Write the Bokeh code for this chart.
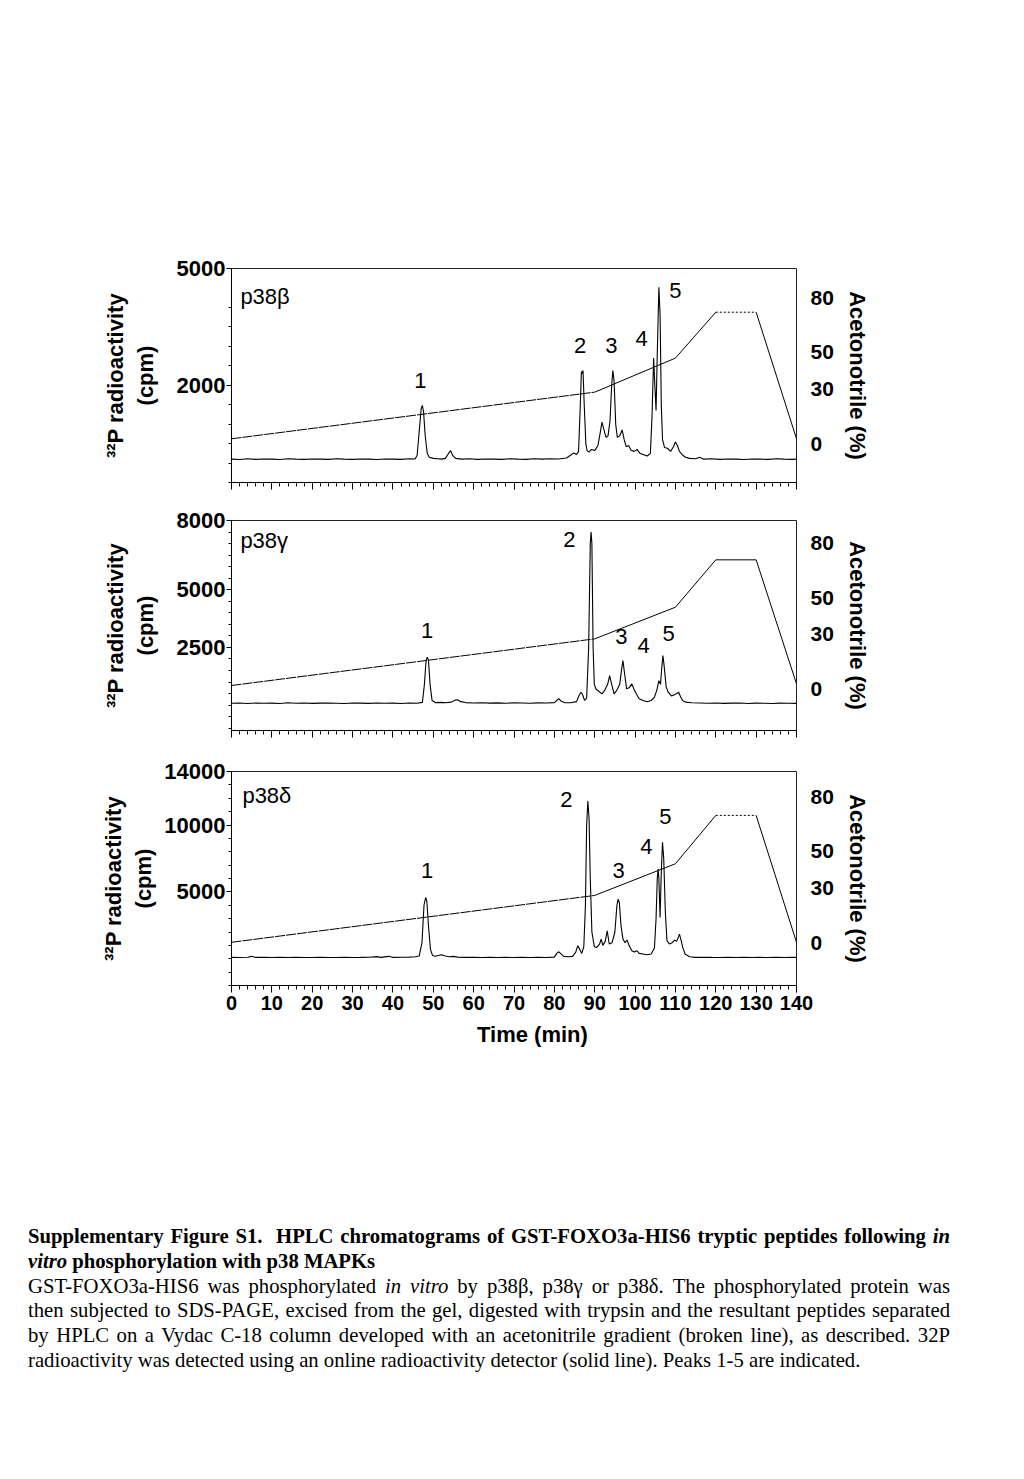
from bokeh.plotting import figure
from bokeh.models import Range1d, LinearAxis, FixedTicker, Spacer, Div
from bokeh.layouts import column
from bokeh.core.properties import value
from bokeh.embed import file_html
from bokeh.resources import INLINE

# ---------------- data ----------------
time_ticks = list(range(0, 141, 10))
time_minor = list(range(0, 141, 2))

# acetonitrile gradient (time, %)
grad_t = [0, 90, 110, 120, 130, 140]
grad_beta = [2.8, 28.3, 46.9, 72.0, 72.0, 2.8]
grad_gamma = [1.9, 27.4, 44.7, 70.6, 70.6, 2.8]
grad_delta = [0.4, 26.0, 43.3, 69.7, 69.7, 0.4]
acn_ticks = [0, 30, 50, 80]

# 32P trace p38beta (time min, cpm)
trace_beta = [
    (0, 100), (2, 90), (4, 110), (6, 95), (8, 105), (10, 100), (12, 90), (14, 110), (16, 100),
    (18, 95), (20, 105), (22, 100), (24, 95), (26, 110), (28, 100), (30, 95), (32, 105), (34, 100),
    (36, 90), (38, 105), (40, 100), (42, 95), (44, 110), (45.5, 105), (46.0, 200), (46.5, 800),
    (47.0, 1400), (47.3, 1480), (47.6, 1300), (48.0, 700), (48.5, 250), (49.0, 150), (50, 120),
    (51, 110), (52, 100), (53, 120), (53.8, 250), (54.3, 320), (54.8, 200), (55.5, 120), (57, 100),
    (59, 110), (61, 95), (63, 105), (65, 100), (67, 95), (69, 110), (71, 100), (73, 95), (75, 110),
    (77, 100), (79, 110), (81, 105), (83, 130), (84, 200), (84.8, 260), (85.5, 220), (86.0, 300),
    (86.4, 1400), (86.7, 2350), (86.9, 2300), (87.1, 2380), (87.4, 1500), (87.8, 500), (88.1, 320),
    (88.6, 280), (89.2, 350), (90, 320), (90.8, 450), (91.4, 800), (91.8, 1050), (92.3, 850),
    (92.8, 660), (93.3, 700), (93.8, 1100), (94.2, 2000), (94.5, 2380), (94.8, 2100), (95.2, 1000),
    (95.6, 660), (96.2, 700), (96.8, 850), (97.3, 600), (97.8, 420), (98.4, 450), (99, 330),
    (99.8, 300), (100.5, 350), (101.2, 250), (102, 220), (103, 180), (103.8, 250), (104.2, 1200),
    (104.6, 2700), (104.9, 2000), (105.2, 1350), (105.5, 2800), (105.9, 4520), (106.2, 3800),
    (106.5, 1500), (106.8, 600), (107.3, 400), (108, 380), (108.8, 300), (109.5, 420), (110, 540),
    (110.5, 450), (111, 300), (111.8, 200), (112.5, 150), (113.5, 120), (115, 110), (116, 150),
    (117, 100), (119, 110), (121, 95), (123, 105), (125, 100), (127, 90), (129, 105), (131, 100),
    (133, 95), (135, 110), (137, 100), (139, 95), (140, 100),
]

# 32P trace p38gamma
trace_gamma = [
    (0, 80), (2, 90), (4, 70), (6, 90), (8, 80), (10, 85), (12, 70), (14, 100), (16, 80), (18, 90),
    (20, 75), (22, 85), (24, 90), (26, 80), (28, 70), (30, 90), (32, 85), (34, 75), (36, 90),
    (38, 80), (40, 85), (42, 70), (44, 90), (46, 80), (47.3, 120), (47.8, 900), (48.2, 1900),
    (48.5, 2080), (48.8, 1950), (49.2, 900), (49.7, 200), (50.5, 110), (52, 120), (53, 100),
    (54.5, 130), (55.5, 220), (56, 230), (56.8, 150), (58, 110), (60, 90), (62, 100), (64, 85),
    (66, 95), (68, 80), (70, 100), (72, 90), (74, 80), (76, 95), (78, 90), (80, 110), (80.6, 200),
    (81.1, 280), (81.6, 180), (82.5, 110), (84, 100), (85.5, 150), (86.2, 450), (86.6, 560),
    (87.0, 450), (87.5, 200), (88.0, 300), (88.5, 2500), (88.9, 7000), (89.1, 7500), (89.3, 7000),
    (89.6, 2500), (89.9, 900), (90.3, 700), (91, 600), (91.8, 490), (92.5, 650), (93.2, 900),
    (93.7, 1280), (94.2, 900), (94.8, 490), (95.5, 650), (96.2, 900), (96.7, 1600), (97.0, 1930),
    (97.3, 1500), (97.9, 706), (98.5, 750), (99.2, 920), (99.7, 700), (100.3, 490), (101, 280),
    (102, 200), (103, 150), (104, 200), (104.8, 350), (105.4, 650), (105.9, 1060), (106.3, 900),
    (106.6, 1600), (106.9, 2150), (107.2, 1700), (107.7, 800), (108.2, 560), (109, 400),
    (109.8, 450), (110.4, 520), (110.8, 560), (111.3, 350), (111.8, 200), (112.5, 130), (114, 100),
    (116, 90), (118, 80), (120, 90), (122, 75), (124, 85), (126, 90), (128, 70), (130, 85),
    (132, 80), (134, 70), (136, 85), (138, 80), (140, 75),
]

# 32P trace p38delta
trace_delta = [
    (0, 100), (2, 90), (4, 110), (5, 180), (6, 100), (8, 110), (10, 95), (12, 100), (14, 90),
    (16, 100), (18, 95), (20, 90), (22, 100), (24, 95), (26, 90), (28, 100), (30, 95), (32, 100),
    (34, 110), (36, 160), (37, 100), (39, 180), (40, 100), (42, 110), (44, 120), (45.5, 150),
    (46.5, 200), (47.2, 1200), (47.7, 4000), (48.1, 4580), (48.4, 4300), (48.8, 2500), (49.3, 700),
    (49.8, 250), (50.5, 180), (52, 300), (53, 200), (54, 150), (55, 180), (56, 120), (58, 100),
    (60, 110), (62, 95), (64, 100), (66, 90), (68, 100), (70, 95), (72, 100), (74, 90), (76, 100),
    (78, 95), (80, 120), (80.6, 400), (81.1, 520), (81.6, 380), (82.3, 180), (83.5, 150),
    (84.5, 180), (85.3, 500), (85.8, 970), (86.3, 700), (86.8, 400), (87.3, 900), (87.7, 4000),
    (88.0, 10000), (88.3, 11800), (88.6, 10500), (88.9, 6000), (89.3, 2000), (89.9, 900),
    (90.5, 850), (91.2, 1100), (91.6, 1470), (92.0, 1000), (92.6, 1300), (93.1, 2090), (93.6, 1100),
    (94.3, 1200), (95.0, 2000), (95.5, 4000), (95.8, 4460), (96.1, 4200), (96.5, 2500), (97.0, 1470),
    (97.5, 1200), (98.0, 1400), (98.5, 1000), (99.2, 600), (99.8, 500), (100.5, 600), (101, 400),
    (102, 350), (103, 300), (104, 350), (104.8, 800), (105.2, 3000), (105.5, 6000), (105.7, 6700),
    (105.9, 6000), (106.2, 3090), (106.5, 6500), (106.8, 8700), (107.1, 7500), (107.5, 3500),
    (107.9, 1350), (108.5, 1100), (109.2, 1200), (109.8, 1400), (110.3, 1300), (110.7, 1600),
    (111.0, 1840), (111.4, 1400), (111.8, 847), (112.4, 350), (113.5, 150), (115, 100), (117, 110),
    (119, 100), (121, 95), (123, 100), (125, 95), (127, 100), (129, 95), (131, 100), (133, 95),
    (135, 100), (137, 95), (139, 100), (140, 100),
]

peak_names = ["1", "2", "3", "4", "5"]
peak_lab_beta = [(46.8, 2120), (86.4, 3020), (94.1, 3020), (101.6, 3200), (110.0, 4430)]
peak_lab_gamma = [(48.5, 3230), (83.7, 7180), (96.6, 2970), (102.1, 2580), (108.3, 3100)]
peak_lab_delta = [(48.5, 6580), (83.0, 11890), (95.9, 6580), (102.8, 8370), (107.5, 10620)]

FONT = "Liberation Sans"
W = 1000
LEFT = 231
FRAME_W = 565


def make_panel(name, name_pos, trace, grad, peak_pos, yr, acn_r, yticks, yminor,
               height, top, bottom, dotted, show_x, ylab_standoff):
    p = figure(width=W, height=height, x_range=Range1d(0, 140), y_range=Range1d(*yr),
               output_backend="svg", toolbar_location=None, title=None,
               min_border_left=LEFT, min_border_right=W - LEFT - FRAME_W,
               min_border_top=top, min_border_bottom=bottom)
    p.xgrid.visible = False
    p.ygrid.visible = False
    p.outline_line_color = "#222222"
    p.outline_line_width = 1
    p.background_fill_color = "white"
    p.border_fill_color = "white"

    # x axis
    xa = p.xaxis[0]
    xa.ticker = FixedTicker(ticks=time_ticks, minor_ticks=time_minor)
    xa.major_tick_out = 7
    xa.major_tick_in = 0
    xa.minor_tick_out = 4
    xa.minor_tick_in = 0
    xa.axis_line_color = "black"
    xa.major_tick_line_color = "black"
    xa.minor_tick_line_color = "black"
    if show_x:
        xa.major_label_text_font = FONT
        xa.major_label_text_font_style = "bold"
        xa.major_label_text_font_size = "20px"
        xa.major_label_text_color = "black"
        xa.major_label_standoff = 3
    else:
        xa.major_label_text_font_size = "8px"
        xa.major_label_text_color = None
        xa.major_label_standoff = 0

    # left axis
    ya = p.yaxis[0]
    ya.ticker = FixedTicker(ticks=yticks, minor_ticks=yminor)
    ya.major_tick_out = 5
    ya.major_tick_in = 0
    ya.minor_tick_out = 3
    ya.minor_tick_in = 0
    ya.axis_line_color = "black"
    ya.major_tick_line_color = "black"
    ya.minor_tick_line_color = "black"
    ya.major_label_text_font = FONT
    ya.major_label_text_font_style = "bold"
    ya.major_label_text_font_size = "22px"
    ya.major_label_text_color = "black"
    ya.major_label_standoff = 1
    ya.axis_label = "\u00b3\u00b2P radioactivity\n(cpm)"
    ya.axis_label_text_font = FONT
    ya.axis_label_text_font_style = "bold"
    ya.axis_label_text_font_size = "22px"
    ya.axis_label_text_color = "black"
    ya.axis_label_standoff = ylab_standoff

    # right axis (acetonitrile)
    p.extra_y_ranges = {"acn": Range1d(*acn_r)}
    ra = LinearAxis(y_range_name="acn", ticker=FixedTicker(ticks=acn_ticks))
    ra.axis_line_color = None
    ra.major_tick_line_color = None
    ra.minor_tick_line_color = None
    ra.major_label_standoff = 8
    ra.major_label_text_font = FONT
    ra.major_label_text_font_style = "bold"
    ra.major_label_text_font_size = "21px"
    ra.major_label_text_color = "black"
    ra.axis_label = "Acetonotrile (%)"
    ra.axis_label_text_font = FONT
    ra.axis_label_text_font_style = "bold"
    ra.axis_label_text_font_size = "22px"
    ra.axis_label_text_color = "black"
    ra.axis_label_standoff = 8
    p.add_layout(ra, "right")

    # gradient (broken line)
    p.line(grad_t[0:2], grad[0:2], y_range_name="acn", line_color="black", line_width=1,
           line_dash="10 1")
    p.line(grad_t[1:4], grad[1:4], y_range_name="acn", line_color="black", line_width=1)
    p.line(grad_t[3:5], grad[3:5], y_range_name="acn", line_color="black", line_width=1,
           line_dash="2 2" if dotted else "solid")
    p.line(grad_t[4:6], grad[4:6], y_range_name="acn", line_color="black", line_width=1)

    # radioactivity trace
    t = [a for a, b in trace]
    c = [b for a, b in trace]
    p.line(t, c, line_color="black", line_width=1.1)

    # labels
    p.text(x=[name_pos[0]], y=[name_pos[1]], text=[name], text_font=value(FONT),
           text_font_size="22px", text_align="left", text_baseline="middle", text_color="black")
    p.text(x=[a for a, b in peak_pos], y=[b for a, b in peak_pos], text=peak_names,
           text_font=value(FONT), text_font_size="22px", text_align="center",
           text_baseline="middle", text_color="black")
    return p


p1 = make_panel("p38\u03b2", (2.2, 4280), trace_beta, grad_beta, peak_lab_beta,
                (-500, 5000), (-21.1, 95.9), [2000, 5000],
                [-500, 0, 500, 1000, 1500, 2500, 3000, 3500, 4000],
                502, 268, 20, True, False, 16)
p2 = make_panel("p38\u03b3", (2.2, 7130), trace_gamma, grad_gamma, peak_lab_gamma,
                (-1100, 8000), (-22.7, 92.1), [2500, 5000, 8000],
                [v for v in range(-1000, 8000, 500) if v not in (2500, 5000)],
                248, 18, 20, False, False, 16)
p3 = make_panel("p38\u03b4", (2.7, 12190), trace_delta, grad_delta, peak_lab_delta,
                (-2000, 14000), (-23.2, 93.7), [5000, 10000, 14000],
                [v for v in range(-2000, 14000, 1000) if v not in (5000, 10000)],
                270, 21, 35, True, True, 5)

xlabel = Div(text='<div style="margin:0 0 0 472px; font-family:\'Liberation Sans\', sans-serif; '
                  'font-weight:bold; font-size:22px; line-height:20px; color:black; '
                  'white-space:nowrap;">Time (min)</div>', width=W, height=30)

cap_lines = [
    ("Supplementary Figure S1.&nbsp; HPLC chromatograms of GST-FOXO3a-HIS6 tryptic peptides following <i>in</i>", True, False),
    ("<i>vitro</i> phosphorylation with p38 MAPKs", True, True),
    ("GST-FOXO3a-HIS6 was phosphorylated <i>in vitro</i> by p38\u03b2, p38\u03b3 or p38\u03b4. The phosphorylated protein was", False, False),
    ("then subjected to SDS-PAGE, excised from the gel, digested with trypsin and the resultant peptides separated", False, False),
    ("by HPLC on a Vydac C-18 column developed with an acetonitrile gradient (broken line), as described. 32P", False, False),
    ("radioactivity was detected using an online radioactivity detector (solid line). Peaks 1-5 are indicated.", False, True),
]
html = ['<div style="margin:0 0 0 23px; width:922px; font-family:\'Liberation Serif\', serif; '
        'font-size:20.7px; line-height:24.8px; color:black;">']
for txt, bold, last in cap_lines:
    st = "margin:0; padding:0; "
    st += "font-weight:bold; " if bold else ""
    st += "text-align:left; white-space:nowrap;" if last else "text-align:justify; text-align-last:justify;"
    html.append('<div style="%s">%s</div>' % (st, txt))
html.append("</div>")
caption = Div(text="".join(html), width=W, height=160)

layout = column(p1, p2, p3, xlabel, Spacer(width=W, height=159), caption)

with open("out.html", "w") as f:
    f.write(file_html(layout, INLINE))
